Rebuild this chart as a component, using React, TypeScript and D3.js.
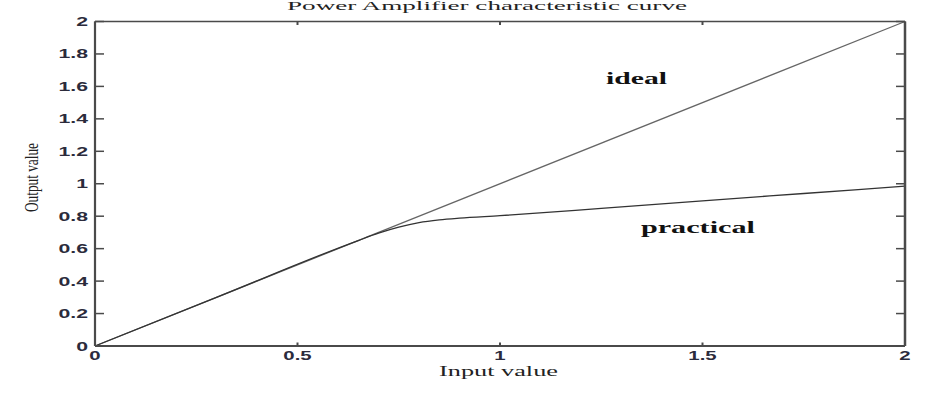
import React from "react";
import * as d3 from "d3";

const W = 936;
const H = 394;

const xTicks = [0, 0.5, 1, 1.5, 2];
const yTicks = [0, 0.2, 0.4, 0.6, 0.8, 1, 1.2, 1.4, 1.6, 1.8, 2];

const idealX = [0, 2];
const idealY = [0, 2];

const practicalX = [0, 0.3, 0.65, 0.7, 0.75, 0.8, 0.85, 0.9, 1.0, 1.25, 1.5, 1.75, 2];
const practicalY = [0, 0.3, 0.65, 0.695, 0.732, 0.76, 0.777, 0.788, 0.803, 0.848, 0.895, 0.94, 0.985];

const titleText = "Power Amplifier characteristic curve";
const xLabel = "Input value";
const yLabel = "Output value";
const annotations = [
  { text: "ideal", x: 1.262, y: 1.615, len: 61 },
  { text: "practical", x: 1.348, y: 0.696, len: 114 },
];

export default function App() {
  const left = 95, right = 905, top = 21.5, bottom = 346;
  const x = d3.scaleLinear().domain([0, 2]).range([left, right]);
  const y = d3.scaleLinear().domain([0, 2]).range([bottom, top]);

  const line = d3
    .line<[number, number]>()
    .x((d) => x(d[0]))
    .y((d) => y(d[1]));
  const curve = d3
    .line<[number, number]>()
    .x((d) => x(d[0]))
    .y((d) => y(d[1]))
    .curve(d3.curveMonotoneX);

  const ideal = idealX.map((v, i) => [v, idealY[i]] as [number, number]);
  const practical = practicalX.map((v, i) => [v, practicalY[i]] as [number, number]);

  const axisColor = "#4a4a4a";
  const tickLabelColor = "#2b2b3c";

  return (
    <svg
      width={W}
      height={H}
      style={{ position: "absolute", left: 0, top: 0, background: "#fff" }}
    >
      <rect x={0} y={0} width={W} height={H} fill="#fff" />
      {/* title */}
      <text
        x={287}
        y={10}
        fontFamily="'Liberation Serif', serif"
        fontSize={12.5}
        fill="#222"
        textLength={400}
        lengthAdjust="spacingAndGlyphs"
      >
        {titleText}
      </text>

      {/* lines */}
      <path d={line(ideal) || ""} fill="none" stroke="#666" strokeWidth={1.3} />
      <path d={curve(practical) || ""} fill="none" stroke="#333" strokeWidth={1.3} />

      {/* frame */}
      <line x1={left} x2={right} y1={top} y2={top} stroke={axisColor} strokeWidth={1.5} />
      <line x1={left} x2={right} y1={bottom} y2={bottom} stroke={axisColor} strokeWidth={2} />
      <line x1={left} x2={left} y1={top} y2={bottom} stroke={axisColor} strokeWidth={2.2} />
      <line x1={right} x2={right} y1={top} y2={bottom} stroke={axisColor} strokeWidth={2.5} />

      {/* y ticks */}
      {yTicks.map((t) => (
        <g key={"y" + t}>
          <line x1={left} x2={left + 9} y1={y(t)} y2={y(t)} stroke={axisColor} strokeWidth={1.5} />
          <line x1={right - 9} x2={right} y1={y(t)} y2={y(t)} stroke={axisColor} strokeWidth={1.5} />
          <text
            transform={`translate(88,${y(t)}) scale(1.7,1)`}
            textAnchor="end"
            dy="0.36em"
            fontFamily="'Liberation Sans', Arial, sans-serif"
            fontWeight="bold"
            fontSize={12.5}
            fill={tickLabelColor}
          >
            {String(t)}
          </text>
        </g>
      ))}

      {/* x ticks */}
      {xTicks.map((t) => (
        <g key={"x" + t}>
          <line x1={x(t)} x2={x(t)} y1={bottom} y2={bottom - 3.5} stroke={axisColor} strokeWidth={2} />
          <line x1={x(t)} x2={x(t)} y1={top} y2={top + 3.5} stroke={axisColor} strokeWidth={2} />
          <text
            transform={`translate(${x(t)},360) scale(1.7,1)`}
            textAnchor="middle"
            fontFamily="'Liberation Sans', Arial, sans-serif"
            fontWeight="bold"
            fontSize={12}
            fill={tickLabelColor}
          >
            {String(t)}
          </text>
        </g>
      ))}

      {/* annotations */}
      {annotations.map((a) => (
        <text
          key={a.text}
          x={x(a.x)}
          y={y(a.y)}
          fontFamily="'Liberation Serif', serif"
          fontWeight="bold"
          fontSize={17}
          fill="#111"
          textLength={a.len}
          lengthAdjust="spacingAndGlyphs"
        >
          {a.text}
        </text>
      ))}

      {/* axis labels */}
      <text
        x={439}
        y={376}
        fontFamily="'Liberation Serif', serif"
        fontSize={15}
        fill="#222"
        textLength={119}
        lengthAdjust="spacingAndGlyphs"
      >
        {xLabel}
      </text>
      <text
        transform="translate(38,212) rotate(-90)"
        fontFamily="'Liberation Serif', serif"
        fontSize={18}
        fill="#222"
        textLength={69}
        lengthAdjust="spacingAndGlyphs"
      >
        {yLabel}
      </text>
    </svg>
  );
}
